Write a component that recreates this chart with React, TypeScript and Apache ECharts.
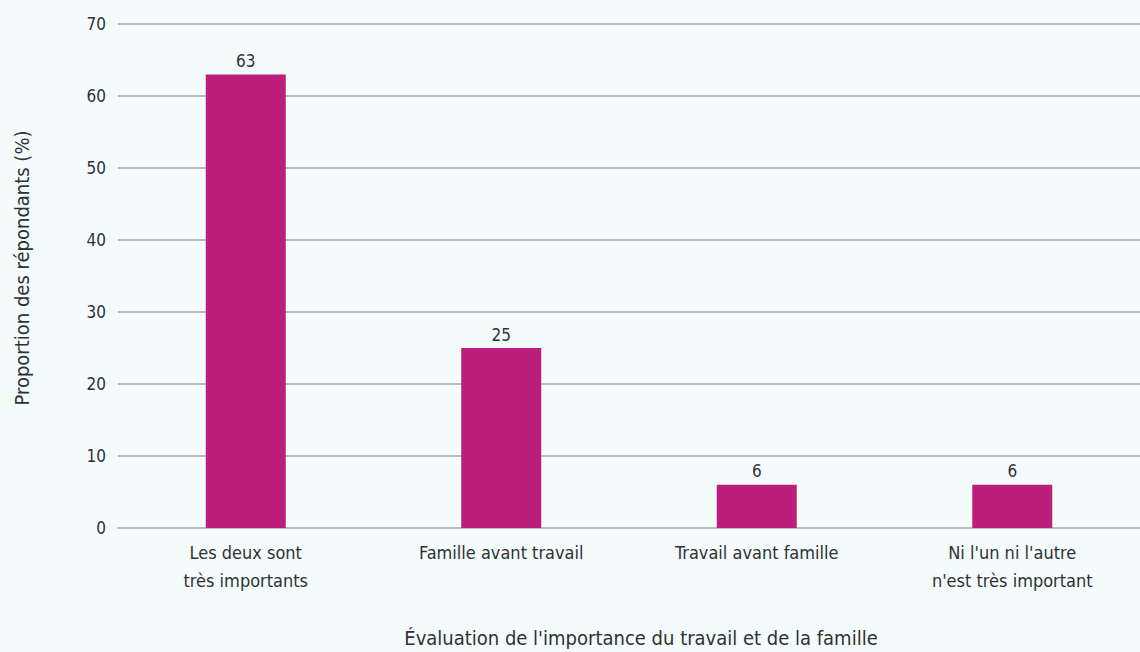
import React, { useEffect, useRef } from "react";
import * as echarts from "echarts";

const categories = [
  "Les deux sont\ntrès importants",
  "Famille avant travail",
  "Travail avant famille",
  "Ni l'un ni l'autre\nn'est très important",
];
const values = [63, 25, 6, 6];
const yTitle = "Proportion des répondants (%)";
const xTitle = "Évaluation de l'importance du travail et de la famille";

const FONT = "'Liberation Sans Narrow', 'DejaVu Sans Condensed', 'Roboto', sans-serif";
const TEXT = "#2f3234";

export default function App() {
  const ref = useRef<HTMLDivElement>(null);
  useEffect(() => {
    document.body.style.margin = "0";
    const chart = echarts.init(ref.current!, undefined, { renderer: "svg" });
    chart.setOption({
      animation: false,
      backgroundColor: "#f3fbfb",
      textStyle: { fontFamily: FONT },
      grid: { left: 118, right: 0, top: 24, bottom: 124, containLabel: false },
      xAxis: {
        type: "category",
        data: categories,
        axisTick: { show: false },
        axisLine: { show: true, lineStyle: { color: "#b8bcbd", width: 2 } },
        axisLabel: {
          color: TEXT,
          fontFamily: FONT,
          fontSize: 18,
          lineHeight: 28,
          margin: 10,
          interval: 0,
        },
      },
      yAxis: {
        type: "value",
        min: 0,
        max: 70,
        interval: 10,
        axisLine: { show: false },
        axisTick: { show: false },
        splitLine: { lineStyle: { color: "#b8bcbd", width: 2 } },
        axisLabel: { color: TEXT, fontFamily: FONT, fontSize: 17, margin: 12 },
      },
      series: [
        {
          type: "bar",
          data: values,
          barWidth: 80,
          itemStyle: { color: "#bc1f7b" },
          label: {
            show: true,
            position: "top",
            color: TEXT,
            fontFamily: FONT,
            fontSize: 17,
            distance: 5,
          },
        },
      ],
      graphic: [
        {
          type: "text",
          x: 641,
          y: 638,
          style: {
            text: xTitle,
            fill: TEXT,
            font: `20px ${FONT}`,
            textAlign: "center",
            textVerticalAlign: "middle",
          },
        },
        {
          type: "text",
          x: 22,
          y: 268,
          rotation: Math.PI / 2,
          style: {
            text: yTitle,
            fill: TEXT,
            font: `20px ${FONT}`,
            textAlign: "center",
            textVerticalAlign: "middle",
          },
        },
      ],
    });
    return () => chart.dispose();
  }, []);
  return (
    <div
      ref={ref}
      style={{ position: "fixed", left: 0, top: 0, width: 1140, height: 652 }}
    />
  );
}
